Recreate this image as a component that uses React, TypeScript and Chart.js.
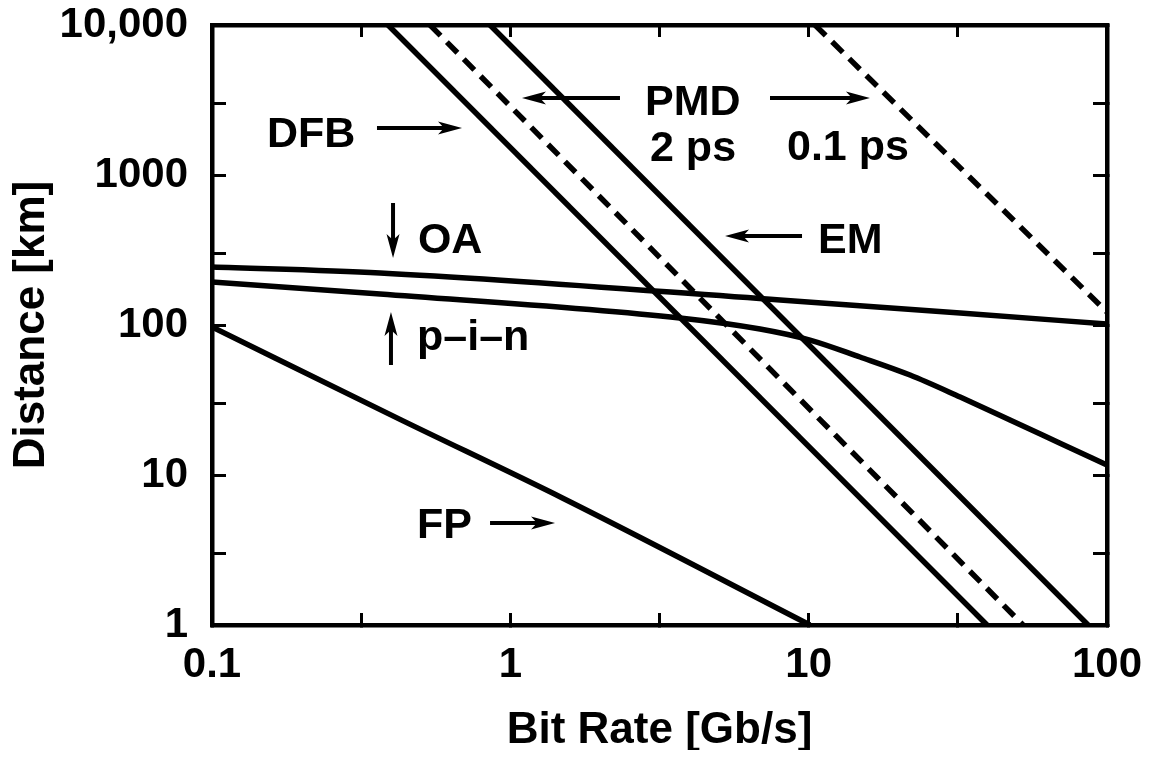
import React, { useEffect, useRef } from "react";
import { Chart, registerables } from "chart.js";

Chart.register(...registerables);

const FONT = '"Liberation Sans", Arial, Helvetica, sans-serif';

// ---- Axis ticks ----
const xMajorTicks = [0.1, 1, 10, 100];
const xMajorLabels = ["0.1", "1", "10", "100"];
const xMinorTicks = [0.316, 3.16, 31.6];
const yMajorTicks = [1, 10, 100, 1000, 10000];
const yMajorLabels = ["1", "10", "100", "1000", "10,000"];
const yMinorTicks = [3, 30, 300, 3000];

// ---- Series: bit rate [Gb/s] vs distance [km] ----
const fpRate = [0.1, 0.43, 1.5, 10.1];
const fpDist = [97, 23.3, 7.0, 1];
const oaRate = [0.1, 0.366, 8.02, 32.2, 100];
const oaDist = [243.6, 222.2, 146.8, 120.2, 101.5];
const pinRate = [0.1, 0.366, 3.7, 6.87, 10.1, 14.86, 21.86, 32.2, 47.3, 69.6, 100];
const pinDist = [193.5, 160.9, 111.4, 94.0, 79.4, 61.2, 46.4, 33.1, 23.3, 16.3, 11.66];
const dfbRate = [0.389, 39.6];
const dfbDist = [10000, 1];
const pmd2Rate = [0.538, 52.3];
const pmd2Dist = [10000, 1];
const emRate = [0.855, 86.4];
const emDist = [10000, 1];
const pmd01Rate = [10.5, 100];
const pmd01Dist = [10000, 122];

// ---- Annotations (anchored in data space: left/baseline of the text) ----
const labelTexts = ["DFB", "PMD", "2 ps", "0.1 ps", "OA", "EM", "p\u2013i\u2013n", "FP"];
const labelRate = [0.1529, 2.827, 2.939, 8.46, 0.49, 10.75, 0.4866, 0.4866];
const labelDist = [1537, 2512, 1240, 1259, 302, 302, 68.1, 3.8];

// arrows: tail -> tip
const arrowFromRate = [0.3573, 2.331, 7.42, 0.4044, 9.5, 0.398, 0.855];
const arrowFromDist = [2057, 3261, 3261, 650.6, 392, 54.1, 4.786];
const arrowToRate = [0.6887, 1.094, 16.05, 0.4044, 5.243, 0.398, 1.412];
const arrowToDist = [2057, 3261, 3261, 279.7, 392, 122.1, 4.786];

const pts = (xs: number[], ys: number[]) => xs.map((x, i) => ({ x, y: ys[i] }));

const labelFor = (ticks: number[], labels: string[]) => (value: any) => {
  const v = Number(value);
  const i = ticks.findIndex((t) => Math.abs(t - v) / t < 1e-6);
  return i >= 0 ? labels[i] : "";
};

const zeroPad = (s: any) => {
  s.paddingLeft = 0;
  s.paddingRight = 0;
  s.paddingTop = 0;
  s.paddingBottom = 0;
};

const annotationPlugin = {
  id: "annotations",
  afterDatasetsDraw(chart: any) {
    const { ctx, scales } = chart;
    const xs = scales.x;
    const ys = scales.y;
    ctx.save();
    ctx.fillStyle = "#000";
    ctx.strokeStyle = "#000";
    ctx.font = `bold 43px ${FONT}`;
    ctx.textAlign = "left";
    ctx.textBaseline = "alphabetic";
    labelTexts.forEach((t, i) => {
      ctx.fillText(t, xs.getPixelForValue(labelRate[i]), ys.getPixelForValue(labelDist[i]));
    });
    const headLen = 24;
    const halfW = 6.5;
    arrowFromRate.forEach((_, i) => {
      const x1 = xs.getPixelForValue(arrowFromRate[i]);
      const y1 = ys.getPixelForValue(arrowFromDist[i]);
      const x2 = xs.getPixelForValue(arrowToRate[i]);
      const y2 = ys.getPixelForValue(arrowToDist[i]);
      const len = Math.hypot(x2 - x1, y2 - y1);
      const dx = (x2 - x1) / len;
      const dy = (y2 - y1) / len;
      ctx.lineWidth = 4;
      ctx.beginPath();
      ctx.moveTo(x1, y1);
      ctx.lineTo(x2 - dx * headLen * 0.6, y2 - dy * headLen * 0.6);
      ctx.stroke();
      ctx.beginPath();
      ctx.moveTo(x2, y2);
      ctx.lineTo(x2 - dx * headLen - dy * halfW, y2 - dy * headLen + dx * halfW);
      ctx.lineTo(x2 - dx * headLen * 0.75, y2 - dy * headLen * 0.75);
      ctx.lineTo(x2 - dx * headLen + dy * halfW, y2 - dy * headLen - dx * halfW);
      ctx.closePath();
      ctx.fill();
    });
    ctx.restore();
  },
};

export default function App() {
  const ref = useRef<HTMLCanvasElement | null>(null);

  useEffect(() => {
    if (!ref.current) return;
    const xTicks = [...xMajorTicks, ...xMinorTicks].sort((a, b) => a - b);
    const yTicks = [...yMajorTicks, ...yMinorTicks].sort((a, b) => a - b);
    const tickFont = { family: FONT, size: 42, weight: "bold" as const };
    const titleFont = { family: FONT, size: 44, weight: "bold" as const, lineHeight: 0.86 };
    const border = { display: true, color: "#000", width: 4.5 };

    const line = (data: any, dashed = false, smooth = false) => ({
      data,
      showLine: true,
      borderColor: "#000",
      backgroundColor: "#000",
      borderWidth: 5.5,
      pointRadius: 0,
      borderDash: dashed ? [15, 9] : [],
      tension: 0,
      cubicInterpolationMode: smooth ? "monotone" : "default",
      fill: false,
    });

    const chart = new Chart(ref.current, {
      type: "scatter",
      data: {
        datasets: [
          line(pts(fpRate, fpDist), false, true),
          line(pts(oaRate, oaDist), false, true),
          line(pts(pinRate, pinDist), false, true),
          line(pts(dfbRate, dfbDist)),
          line(pts(pmd2Rate, pmd2Dist), true),
          line(pts(emRate, emDist)),
          line(pts(pmd01Rate, pmd01Dist), true),
        ] as any,
      },
      options: {
        animation: false,
        responsive: false,
        events: [],
        layout: { padding: { top: 17, right: 38, left: 0, bottom: 0 } },
        plugins: { legend: { display: false }, tooltip: { enabled: false } },
        scales: {
          x: {
            type: "logarithmic",
            position: "bottom",
            min: 0.1,
            max: 100,
            afterBuildTicks: (s: any) => {
              s.ticks = xTicks.map((v) => ({ value: v }));
            },
            afterFit: (s: any) => {
              s.height = 125;
              zeroPad(s);
            },
            ticks: {
              autoSkip: false,
              maxRotation: 0,
              minRotation: 0,
              padding: 27,
              color: "#000",
              font: tickFont,
              callback: labelFor(xMajorTicks, xMajorLabels),
            },
            grid: { drawOnChartArea: false, drawTicks: true, tickLength: -12, color: "#000", lineWidth: 3 },
            border,
            title: {
              display: true,
              text: "Bit Rate [Gb/s]",
              color: "#000",
              font: titleFont,
              padding: { top: 0, bottom: 0 },
            },
          },
          x2: {
            type: "logarithmic",
            axis: "x",
            position: "top",
            min: 0.1,
            max: 100,
            afterBuildTicks: (s: any) => {
              s.ticks = xTicks.map((v) => ({ value: v }));
            },
            afterFit: (s: any) => {
              s.height = 0;
              zeroPad(s);
            },
            ticks: { display: false, autoSkip: false },
            grid: { drawOnChartArea: false, drawTicks: true, tickLength: -12, color: "#000", lineWidth: 3 },
            border,
          },
          y: {
            type: "logarithmic",
            position: "left",
            min: 1,
            max: 10000,
            afterBuildTicks: (s: any) => {
              s.ticks = yTicks.map((v) => ({ value: v }));
            },
            afterFit: (s: any) => {
              s.width = 204;
              zeroPad(s);
            },
            ticks: {
              autoSkip: false,
              padding: 38,
              color: "#000",
              font: tickFont,
              callback: labelFor(yMajorTicks, yMajorLabels),
            },
            grid: { drawOnChartArea: false, drawTicks: true, tickLength: -14, color: "#000", lineWidth: 3 },
            border,
            title: {
              display: true,
              text: "Distance [km]",
              color: "#000",
              font: titleFont,
              padding: { top: 5, bottom: 0 },
            },
          },
          y2: {
            type: "logarithmic",
            axis: "y",
            position: "right",
            min: 1,
            max: 10000,
            afterBuildTicks: (s: any) => {
              s.ticks = yTicks.map((v) => ({ value: v }));
            },
            afterFit: (s: any) => {
              s.width = 0;
              zeroPad(s);
            },
            ticks: { display: false, autoSkip: false },
            grid: { drawOnChartArea: false, drawTicks: true, tickLength: -14, color: "#000", lineWidth: 3 },
            border,
          },
        },
      } as any,
      plugins: [annotationPlugin],
    });
    return () => chart.destroy();
  }, []);

  return (
    <div style={{ width: 1137, height: 742, background: "#fff" }}>
      <canvas ref={ref} width={1137} height={742} style={{ display: "block" }} />
    </div>
  );
}
